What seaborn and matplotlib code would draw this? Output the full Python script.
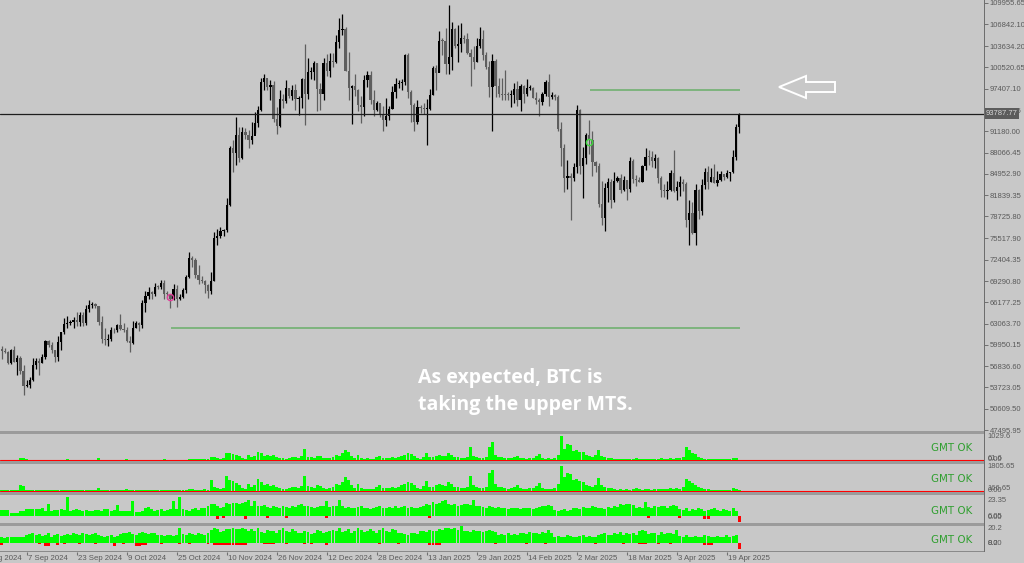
import numpy as np
import pandas as pd
import matplotlib
matplotlib.use("Agg")
import matplotlib.pyplot as plt
import matplotlib.transforms as mtransforms
from matplotlib.patches import Polygon, Rectangle
import seaborn as sns

# ===== DATA: daily BTC candles (thousand USD), 29 Aug 2024 .. 23 Apr 2025 =====
start_date = "2024-08-29"
first_open = 59.02

closes = [
    59.37, 59.12, 58.97,  # Aug
    57.33, 59.13, 57.50, 57.99, 56.16, 53.96, 54.14, 54.84, 57.02, 57.65,
    57.34, 58.13, 60.57, 60.00, 59.19, 58.21, 60.31, 61.76, 62.95, 63.20,
    63.35, 63.58, 63.34, 64.26, 63.14, 65.18, 65.80, 65.87, 65.60, 63.33,  # Sep
    60.80, 60.63, 60.75, 62.09, 62.06, 62.82, 62.22, 62.13, 60.58, 60.27,
    62.45, 63.19, 62.85, 66.05, 67.04, 67.61, 67.37, 68.39, 68.36, 69.00,
    67.37, 67.36, 66.68, 68.16, 66.64, 67.01, 67.93, 69.90, 72.72, 72.33, 70.22,  # Oct
    69.48, 69.35, 68.77, 67.81, 69.36, 75.64, 75.90, 76.55, 76.68, 80.37,
    88.70, 87.96, 90.59, 87.25, 91.07, 90.58, 89.85, 90.46, 92.34, 94.34,
    98.38, 98.96, 97.71, 98.00, 93.03, 91.94, 95.96, 95.64, 97.46, 96.41,  # Nov
    97.19, 95.86, 96.00, 98.77, 96.59, 99.92, 99.92, 101.17, 97.32, 96.61,
    101.13, 100.00, 101.46, 101.37, 104.30, 106.03, 106.14, 100.04, 97.48, 97.76,
    97.22, 95.10, 94.69, 98.68, 99.43, 95.79, 94.30, 95.30, 93.71, 92.79, 93.43,  # Dec
    94.42, 96.89, 98.11, 98.24, 98.35, 102.28, 96.93, 95.04, 92.48, 94.70,
    94.57, 94.49, 94.52, 96.53, 100.50, 99.76, 104.46, 104.40, 101.09, 102.01,
    106.15, 103.65, 103.96, 104.82, 104.71, 102.62, 102.08, 101.34, 103.73, 104.73, 102.41,  # Jan
    100.65, 97.69, 101.40, 97.87, 96.62, 96.55, 96.53, 96.48, 96.50, 97.40,
    95.75, 97.87, 96.62, 97.51, 97.57, 96.12, 95.77, 95.54, 96.64, 98.33,
    96.14, 96.55, 96.27, 91.55, 88.68, 84.35, 84.71, 84.37,  # Feb
    86.03, 94.25, 86.12, 87.22, 90.62, 89.96, 86.74, 86.15, 80.60, 78.53,
    82.86, 83.72, 81.07, 83.97, 84.34, 82.58, 84.08, 82.72, 86.85, 84.17,
    84.04, 83.83, 86.08, 87.50, 87.47, 86.90, 87.23, 84.35, 82.65, 82.39, 82.55,  # Mar
    85.16, 82.52, 83.10, 83.84, 83.50, 78.20, 79.20, 76.32, 82.60, 79.60,
    83.40, 85.28, 83.70, 84.54, 83.67, 84.03, 84.95, 84.47, 85.06, 85.17,
    87.40, 91.80, 93.79,  # Apr
]

highs = [
    61.15, 59.85, 59.46,
    59.07, 59.40, 59.80, 58.50, 58.30, 56.95, 54.85, 55.30, 58.10, 58.05,
    57.99, 58.60, 60.65, 60.63, 60.38, 59.20, 61.30, 61.80, 63.85, 64.10,
    63.55, 64.00, 64.75, 64.80, 64.70, 65.80, 66.50, 66.25, 66.00, 65.60,
    64.10, 62.40, 61.50, 62.50, 62.40, 62.95, 64.50, 63.20, 62.55, 61.30,
    63.40, 63.45, 63.30, 66.50, 67.90, 68.40, 67.90, 68.95, 68.70, 69.40,
    69.50, 67.85, 67.40, 68.80, 68.75, 67.40, 68.30, 70.20, 73.60, 72.95, 72.70,
    71.60, 69.95, 69.40, 68.90, 70.55, 76.40, 76.90, 77.20, 76.90, 81.50,
    89.00, 89.95, 93.25, 91.75, 91.80, 91.70, 91.40, 92.60, 94.00, 94.85,
    98.95, 99.55, 98.80, 98.65, 98.50, 94.70, 97.30, 96.60, 98.70, 97.50,
    97.90, 98.15, 96.30, 99.00, 104.00, 101.90, 100.55, 101.40, 101.20, 98.20,
    101.90, 102.50, 102.60, 102.65, 105.25, 107.80, 108.35, 106.50, 102.80, 98.00,
    99.50, 97.40, 96.40, 99.40, 99.95, 99.95, 97.30, 95.60, 95.20, 94.90, 96.10,
    94.90, 97.80, 98.95, 98.70, 98.80, 102.50, 102.70, 97.25, 95.35, 95.80,
    95.00, 95.40, 95.90, 97.35, 100.70, 100.85, 105.90, 104.90, 106.30, 109.60,
    107.20, 106.30, 106.80, 107.10, 105.30, 105.50, 103.20, 103.70, 104.80, 106.40, 106.00,
    102.80, 101.50, 102.50, 101.75, 99.00, 99.00, 100.10, 96.90, 97.30, 98.30,
    98.50, 98.10, 98.00, 98.80, 97.90, 97.70, 97.00, 96.00, 96.90, 98.70,
    99.50, 96.90, 96.70, 96.50, 92.50, 89.30, 87.00, 85.10,
    86.50, 95.00, 94.40, 88.90, 91.00, 92.80, 91.20, 86.90, 86.50, 83.90,
    83.60, 84.30, 84.20, 85.20, 84.70, 85.00, 84.70, 84.00, 87.40, 87.10,
    84.80, 84.50, 86.30, 88.80, 88.50, 88.30, 87.80, 87.50, 84.60, 83.50, 83.90,
    85.50, 88.50, 83.90, 84.70, 84.20, 83.80, 81.20, 80.80, 83.50, 82.70,
    84.20, 85.80, 86.10, 85.80, 86.40, 85.40, 85.40, 85.00, 85.50, 85.30,
    88.50, 92.30, 93.85,
]

lows = [
    58.80, 57.87, 58.75,
    57.20, 57.13, 57.42, 55.60, 55.70, 52.55, 53.75, 53.65, 54.60, 56.40,
    55.55, 57.35, 57.95, 59.70, 58.70, 57.50, 57.63, 59.20, 61.60, 62.40,
    62.80, 62.40, 62.70, 62.70, 62.75, 62.85, 64.80, 65.40, 65.40, 62.90,
    60.20, 59.90, 59.85, 60.50, 61.70, 61.85, 62.10, 61.85, 60.30, 58.90,
    60.10, 62.45, 62.05, 62.45, 64.80, 66.70, 66.70, 67.10, 68.10, 68.10,
    66.60, 66.60, 65.30, 66.55, 65.50, 66.50, 66.80, 67.50, 69.70, 71.40, 69.70,
    68.80, 69.00, 67.50, 66.80, 67.45, 69.30, 74.50, 75.60, 75.90, 76.50,
    80.25, 85.20, 86.30, 86.70, 87.10, 90.10, 88.80, 89.40, 90.90, 91.80,
    94.10, 97.20, 97.20, 95.80, 92.60, 90.80, 91.80, 94.60, 95.40, 96.10,
    95.70, 94.30, 93.60, 94.65, 92.10, 95.95, 98.90, 98.70, 94.20, 94.25,
    95.70, 99.35, 99.20, 100.60, 101.25, 103.30, 105.30, 100.00, 95.70, 92.20,
    96.40, 94.20, 92.40, 93.40, 97.60, 95.20, 93.40, 94.20, 93.30, 91.30, 92.00,
    92.80, 94.40, 96.00, 97.50, 97.30, 97.90, 96.10, 92.50, 91.20, 92.20,
    93.80, 93.70, 89.20, 94.30, 96.50, 97.30, 99.90, 102.30, 99.60, 99.50,
    100.10, 103.30, 101.30, 102.80, 104.10, 102.50, 97.80, 100.30, 101.30, 103.30, 101.60,
    100.30, 96.20, 91.20, 96.20, 96.20, 95.70, 95.70, 95.70, 94.70, 95.30,
    94.90, 94.10, 95.30, 96.30, 97.20, 96.05, 95.20, 93.40, 95.00, 96.40,
    94.90, 95.90, 95.80, 91.30, 86.10, 82.30, 82.80, 78.20,
    83.90, 85.10, 85.00, 81.50, 86.40, 87.80, 84.70, 85.30, 80.10, 77.50,
    76.60, 80.80, 79.90, 80.80, 83.70, 82.20, 82.50, 81.20, 82.30, 83.60,
    83.20, 83.70, 83.80, 85.50, 86.30, 85.90, 85.80, 83.60, 81.60, 81.60, 81.30,
    82.40, 82.30, 81.20, 81.70, 82.40, 77.20, 74.50, 76.20, 74.60, 78.40,
    78.90, 82.80, 82.80, 83.70, 83.60, 83.20, 83.90, 84.10, 84.40, 83.90,
    85.10, 87.00, 91.00,
]

price_ticks = [109955.65, 106842.10, 103634.20, 100520.65, 97407.10, 94293.55,
               91180.00, 88066.45, 84952.90, 81839.35, 78725.80, 75517.90,
               72404.35, 69290.80, 66177.25, 63063.70, 59950.15, 56836.60,
               53723.05, 50609.50, 47495.95]
last_price = 93787.77

date_labels = ["22 Aug 2024", "7 Sep 2024", "23 Sep 2024", "9 Oct 2024",
               "25 Oct 2024", "10 Nov 2024", "26 Nov 2024", "12 Dec 2024",
               "28 Dec 2024", "13 Jan 2025", "29 Jan 2025", "14 Feb 2025",
               "2 Mar 2025", "18 Mar 2025", "3 Apr 2025", "19 Apr 2025"]

# MTS levels (green lines) and trade marks
mts_levels = [97230, 62410]
mts_from = ["2025-03-06", "2024-10-23"]
mts_to = "2025-04-23"
mark_dates = ["2024-10-23", "2025-03-06"]
mark_prices = [66950, 89620]
mark_colors = ["#e0409a", "#3fd83f"]

note_lines = ["As expected, BTC is", "taking the upper MTS."]

# ===== indicator windows (one value per candle) =====
vol_a = [
    20, 20, 20, 20, 20, 20, 20, 70, 80, 30, 20, 15, 15, 15,
    15, 20, 20, 20, 20, 20, 20, 20, 25, 20, 20, 20, 20, 20,
    20, 20, 20, 20, 70, 20, 20, 20, 20, 20, 20, 20, 20, 50,
    20, 20, 20, 20, 20, 20, 20, 20, 20, 20, 20, 40, 20, 20,
    20, 20, 20, 20, 20, 50, 50, 25, 25, 25, 50, 40, 130, 110,
    90, 60, 80, 290, 270, 240, 190, 150, 80, 60, 200, 120, 170, 330,
    270, 160, 200, 150, 190, 120, 80, 70, 60, 90, 130, 110, 80, 150,
    470, 140, 120, 90, 160, 150, 80, 70, 90, 120, 200, 180, 270, 400,
    320, 180, 100, 200, 80, 60, 70, 50, 60, 110, 160, 90, 100, 80,
    110, 90, 130, 160, 200, 270, 250, 180, 90, 60, 140, 290, 130, 130,
    160, 200, 180, 150, 270, 190, 130, 120, 100, 90, 120, 530, 180, 110,
    90, 80, 110, 540, 730, 200, 120, 110, 90, 70, 100, 110, 160, 100,
    70, 60, 80, 90, 150, 240, 90, 60, 70, 50, 80, 200, 1000, 470,
    640, 600, 380, 400, 340, 330, 200, 160, 130, 200, 430, 180, 120, 100,
    80, 60, 40, 50, 40, 60, 40, 50, 80, 50, 40, 60, 50, 40,
    60, 50, 70, 50, 60, 80, 60, 90, 70, 120, 530, 400, 270, 240,
    130, 80, 60, 50, 40, 40, 30, 40, 30, 40, 30, 80, 70, 20,
]

vol_b = [
    60, 50, 50, 60, 60, 50, 80, 400, 350, 80, 50, 40, 40, 40,
    40, 50, 50, 50, 60, 50, 50, 50, 70, 50, 50, 60, 50, 50,
    50, 60, 50, 60, 250, 60, 50, 50, 50, 50, 50, 60, 60, 130,
    50, 50, 60, 50, 50, 50, 60, 50, 50, 60, 50, 100, 50, 50,
    50, 60, 60, 50, 50, 120, 120, 60, 60, 70, 120, 100, 800, 300,
    220, 150, 200, 1100, 800, 700, 600, 400, 200, 150, 500, 300, 420, 900,
    650, 400, 500, 380, 450, 300, 200, 170, 150, 230, 320, 280, 200, 380,
    1100, 350, 300, 230, 400, 380, 200, 170, 230, 300, 500, 450, 650, 1000,
    800, 450, 250, 500, 200, 150, 170, 120, 150, 270, 400, 230, 250, 200,
    270, 230, 320, 400, 500, 650, 600, 450, 230, 150, 350, 700, 320, 320,
    400, 500, 450, 380, 650, 470, 320, 300, 250, 230, 300, 1100, 450, 270,
    230, 200, 270, 1300, 1500, 500, 300, 270, 230, 170, 250, 270, 400, 250,
    170, 150, 200, 230, 380, 600, 230, 150, 170, 120, 200, 500, 1800, 1000,
    1300, 1200, 800, 850, 700, 680, 450, 380, 320, 450, 950, 420, 300, 250,
    200, 150, 100, 120, 100, 150, 100, 120, 200, 120, 100, 150, 120, 100,
    150, 120, 170, 120, 150, 200, 150, 220, 170, 300, 900, 750, 550, 450,
    300, 200, 150, 120, 100, 100, 80, 100, 80, 100, 80, 200, 170, 50,
]
vol_b_neg_idx = [68, 74, 75, 76, 84, 89, 98, 104, 109, 141, 144, 183]
vol_b_neg = [-60, -60, -60, -60, -50, -50, -50, -50, -50, -50, -50, -50]

osc_a = [
    5, 9, 9, 9, 4, 4, 4, 7, 7, 10, 10, 10, 10, 10,
    11, 8, 17, 8, 9, 9, 10, 9, 28, 8, 9, 10, 9, 8,
    9, 7, 8, 9, 9, 8, 10, 10, 8, 9, 16, 8, 7, 8,
    7, 22, 6, 6, 7, 12, 13, 10, 8, 9, 10, 8, 9, 10,
    22, 10, 28, 10, 9, 8, 10, 12, 9, 11, 12, 15, 17, 18,
    14, 12, 13, 19, 18, 19, 19, 18, 19, 20, 23, 15, 22, 15,
    14, 16, 13, 12, 14, 13, 12, 14, 13, 12, 14, 13, 16, 17,
    14, 15, 13, 12, 13, 14, 15, 22, 13, 14, 15, 24, 14, 12,
    13, 11, 12, 13, 14, 12, 11, 10, 12, 13, 14, 12, 11, 13,
    12, 14, 12, 13, 14, 12, 13, 11, 12, 13, 15, 18, 16, 20,
    17, 19, 22, 24, 18, 16, 17, 15, 16, 18, 17, 16, 24, 15,
    14, 13, 12, 14, 13, 12, 13, 11, 12, 10, 11, 12, 11, 10,
    11, 12, 11, 10, 12, 13, 15, 14, 16, 15, 9, 8, 9, 10,
    8, 9, 11, 12, 10, 13, 11, 12, 14, 13, 11, 12, 10, 13,
    12, 14, 13, 17, 16, 18, 17, 16, 12, 13, 12, 20, 13, 12,
    14, 13, 15, 14, 12, 15, 16, 14, 10, 9, 11, 8, 10, 9,
    11, 10, 8, 9, 10, 11, 9, 8, 10, 9, 8, 12, 7, 0,
]
osc_a_neg_idx = [70, 72, 79, 86, 92, 105, 138, 208, 218, 226, 227, 237]
osc_a_neg = [-4, -3, -5, -3, -3, -3, -3, -3, -3, -4, -5, -9]

osc_b = [
    8, 9, 7, 8, 9, 8, 9, 8, 9, 12, 13, 14, 12, 13,
    10, 12, 14, 9, 11, 13, 10, 12, 13, 12, 14, 13, 12, 14,
    13, 12, 13, 14, 12, 10, 9, 10, 11, 9, 10, 13, 15, 14,
    16, 13, 12, 15, 16, 14, 13, 15, 14, 12, 11, 10, 12, 11,
    10, 12, 22, 13, 12, 14, 13, 12, 14, 13, 12, 14, 19, 21,
    20, 16, 17, 20, 20, 21, 20, 20, 21, 20, 17, 20, 18, 22,
    16, 15, 19, 17, 18, 15, 19, 21, 17, 16, 20, 18, 15, 14,
    18, 16, 13, 15, 19, 17, 14, 16, 18, 19, 17, 21, 16, 18,
    20, 15, 17, 21, 19, 16, 18, 20, 17, 15, 19, 22, 18, 16,
    20, 19, 14, 15, 13, 12, 14, 15, 13, 17, 18, 16, 19, 17,
    18, 20, 19, 21, 22, 20, 21, 19, 24, 17, 18, 16, 19, 17,
    18, 16, 17, 19, 18, 16, 12, 13, 11, 14, 12, 13, 12, 14,
    15, 13, 16, 14, 15, 13, 16, 14, 19, 14, 9, 10, 8, 9,
    11, 10, 8, 9, 10, 11, 9, 10, 8, 9, 12, 13, 14, 11,
    12, 15, 13, 16, 12, 14, 13, 15, 12, 17, 19, 18, 13, 15,
    14, 12, 16, 13, 15, 14, 13, 19, 10, 9, 11, 8, 9, 10,
    8, 9, 11, 10, 9, 8, 10, 9, 8, 11, 9, 10, 11, 0,
]
osc_b_neg_idx = [1, 13, 15, 16, 19, 21, 26, 31, 37, 40, 44, 45, 46, 47, 52, 58,
                 61, 67, 69, 70, 71, 72, 73, 74, 75, 76, 77, 78, 79, 85, 86, 87,
                 88, 92, 98, 100, 105, 122, 128, 138, 139, 140, 141, 159, 169,
                 175, 191, 200, 205, 206, 207, 211, 215, 226, 227, 228, 237]
osc_b_neg = [-3, -2, -4, -4, -3, -2, -2, -2, -5, -2, -4, -4, -3, -3, -2, -2,
             -2, -2, -3, -3, -3, -3, -3, -3, -3, -3, -3, -3, -3, -2, -2, -2,
             -2, -2, -2, -2, -3, -2, -2, -3, -3, -3, -3, -2, -2,
             -2, -2, -2, -2, -2, -2, -2, -2, -3, -3, -3, -8]

# ===== style =====
W, H = 1024, 563
BG = "#c8c8c8"
BULL, BEAR = "#000000", "#5e5e5e"
GREEN, RED = "#00ff00", "#ff0000"
AXIS_TXT = "#5a5a5a"
XLIM = (0.45, 315.3)

sns.set_theme(style="white", rc={"axes.facecolor": BG, "figure.facecolor": BG})
plt.rcParams["font.family"] = ["DejaVu Sans"]
SCALE_FONT = ["Liberation Sans", "DejaVu Sans"]
SCALE_SIZE = 5.5
DATE_SIZE = 5.6


def px_box(x0, y0, x1, y1):
    return [x0 / W, 1 - y1 / H, (x1 - x0) / W, (y1 - y0) / H]


start = pd.Timestamp(start_date)
closes_usd = np.array(closes) * 1000
opens_usd = np.concatenate([[first_open], closes[:-1]]) * 1000
highs_usd = np.array(highs) * 1000
lows_usd = np.array(lows) * 1000
x = np.arange(len(closes_usd))

fig = plt.figure(figsize=(W / 100, H / 100), dpi=100)

# ===== main price window =====
ax = fig.add_axes(px_box(0, 0, 984, 431))
ax.set_facecolor(BG)
up = closes_usd >= opens_usd
cols = np.where(up, BULL, BEAR)
ax.vlines(x, lows_usd, highs_usd, colors=cols, lw=0.9, zorder=2)
body_lo = np.minimum(opens_usd, closes_usd)
body_h = np.maximum(np.abs(closes_usd - opens_usd), 130)
ax.bar(x, body_h, bottom=body_lo, width=0.72, color=cols, lw=0, zorder=3)

ax.axhline(last_price, color="#1e1e1e", lw=0.9, zorder=4)
end_i = (pd.Timestamp(mts_to) - start).days + 0.3
for lvl, d0 in zip(mts_levels, mts_from):
    i0 = (pd.Timestamp(d0) - start).days + 0.2
    ax.hlines(lvl, i0, end_i, color="#6aaf6a", lw=1.1, zorder=4)
for d, p, c in zip(mark_dates, mark_prices, mark_colors):
    ax.plot((pd.Timestamp(d) - start).days, p, "o", ms=4.5, mfc="none",
            mec=c, mew=1, zorder=5)

ax.set_xlim(*XLIM)
ax.set_ylim(47350, 110394)
ax.set_xticks([])
ax.yaxis.tick_right()
ax.set_yticks(price_ticks)
ax.set_yticklabels([f"{v:.2f}" for v in price_ticks])
ax.tick_params(axis="y", length=3, width=0.7, color="#707070", pad=1.0,
               labelsize=SCALE_SIZE, labelcolor=AXIS_TXT)
for lab in ax.get_yticklabels():
    lab.set_family(SCALE_FONT)
for s in ax.spines.values():
    s.set_visible(False)
ytrans = mtransforms.blended_transform_factory(ax.transAxes, ax.transData)
ax.text(1.0015, last_price, f"{last_price:.2f}", transform=ytrans,
        ha="left", va="center", fontsize=SCALE_SIZE, family=SCALE_FONT,
        color="#d6d6d6",
        bbox=dict(facecolor="#5c5c5c", edgecolor="none", pad=1.2),
        zorder=10, clip_on=False)


# ===== indicator windows =====
def draw_panel(box, pos_vals, neg_idx, neg_vals, ylim, labels, gmt_y,
               base_line=False):
    p = fig.add_axes(px_box(*box))
    p.set_facecolor(BG)
    if base_line:
        p.axhline(0, color=RED, lw=0.8, zorder=1)
    sns.barplot(x=x, y=pos_vals, native_scale=True, color=GREEN,
                saturation=1, width=0.95, errorbar=None, linewidth=0,
                ax=p, zorder=2)
    if neg_idx:
        p.bar(neg_idx, neg_vals, width=0.95, color=RED, lw=0, zorder=2)
    p.set_xlim(*XLIM)
    p.set_ylim(*ylim)
    p.set_xticks([])
    p.set_yticks([])
    p.set_xlabel("")
    p.set_ylabel("")
    for s in p.spines.values():
        s.set_visible(False)
    tr = mtransforms.blended_transform_factory(p.transAxes, p.transData)
    for val, txt in labels:
        p.text(1.004, val, txt, transform=tr, ha="left", va="center",
               fontsize=SCALE_SIZE, family=SCALE_FONT, color=AXIS_TXT,
               clip_on=False)
    p.text(952 / 984, gmt_y, "GMT OK", transform=p.transAxes, ha="center",
           va="center", fontsize=7.4, color="#2f9f2f")
    return p


draw_panel((0, 434, 984, 461), vol_a, [], [], (-40, 1070),
           [(950, "1029.6"), (40, "0.00"), (60, "61.6")], 0.48, base_line=True)
draw_panel((0, 464, 984, 492), vol_b, vol_b_neg_idx, vol_b_neg, (-72, 1944),
           [(1730, "1805.65"), (0, "0.00"), (166.65, "166.65")], 0.46,
           base_line=True)
draw_panel((0, 495, 984, 523), osc_a, osc_a_neg_idx, osc_a_neg, (-10.2, 30.7),
           [(23.35, "23.35"), (-1.6, "0.00"), (-0.8, "6.05")], 0.43)
draw_panel((0, 526, 984, 551), osc_b, osc_b_neg_idx, osc_b_neg, (-11.5, 24.5),
           [(20.2, "20.2"), (-1.0, "0.00"), (-0.3, "8.2")], 0.44)

# window separators and right scale line
for y0 in [431, 461, 492, 523]:
    fig.add_artist(Rectangle((0, 1 - (y0 + 3) / H), 984 / W, 3 / H,
                             transform=fig.transFigure, color="#9b9b9b", lw=0))
fig.add_artist(Rectangle((0, 1 - 552 / H), 984 / W, 1 / H,
                         transform=fig.transFigure, color="#8a8a8a", lw=0))
fig.add_artist(Rectangle((984 / W, 1 - 552 / H), 1 / W, 552 / H,
                         transform=fig.transFigure, color="#6e6e6e", lw=0))

# ===== date strip =====
dax = fig.add_axes(px_box(0, 552, 984, 563))
dax.set_facecolor(BG)
dax.set_xlim(*XLIM)
dax.set_ylim(0, 1)
dax.axis("off")
for lbl in date_labels:
    pos = (pd.to_datetime(lbl, format="%d %b %Y") - start).days
    dax.vlines(pos, 0.7, 1.0, color="#707070", lw=0.8)
    dax.text(pos + 0.45, 0.42, lbl, ha="left", va="center", fontsize=DATE_SIZE,
             family=SCALE_FONT, color=AXIS_TXT, clip_on=True)

# ===== annotation text and arrow =====
for txt, yb in zip(note_lines, [383, 410]):
    fig.text(418 / W, 1 - yb / H, txt, ha="left", va="baseline", fontsize=14,
             fontweight="bold", family=["Open Sans", "DejaVu Sans"],
             color="white")

arrow_px = [(779, 87), (806, 76), (806, 82), (835, 82), (835, 92),
            (806, 92), (806, 98)]
fig.add_artist(Polygon([(px / W, 1 - py / H) for px, py in arrow_px],
                       closed=True, transform=fig.transFigure, fill=False,
                       edgecolor="white", lw=1.4))

fig.savefig("out.png", dpi=100, facecolor=BG)
